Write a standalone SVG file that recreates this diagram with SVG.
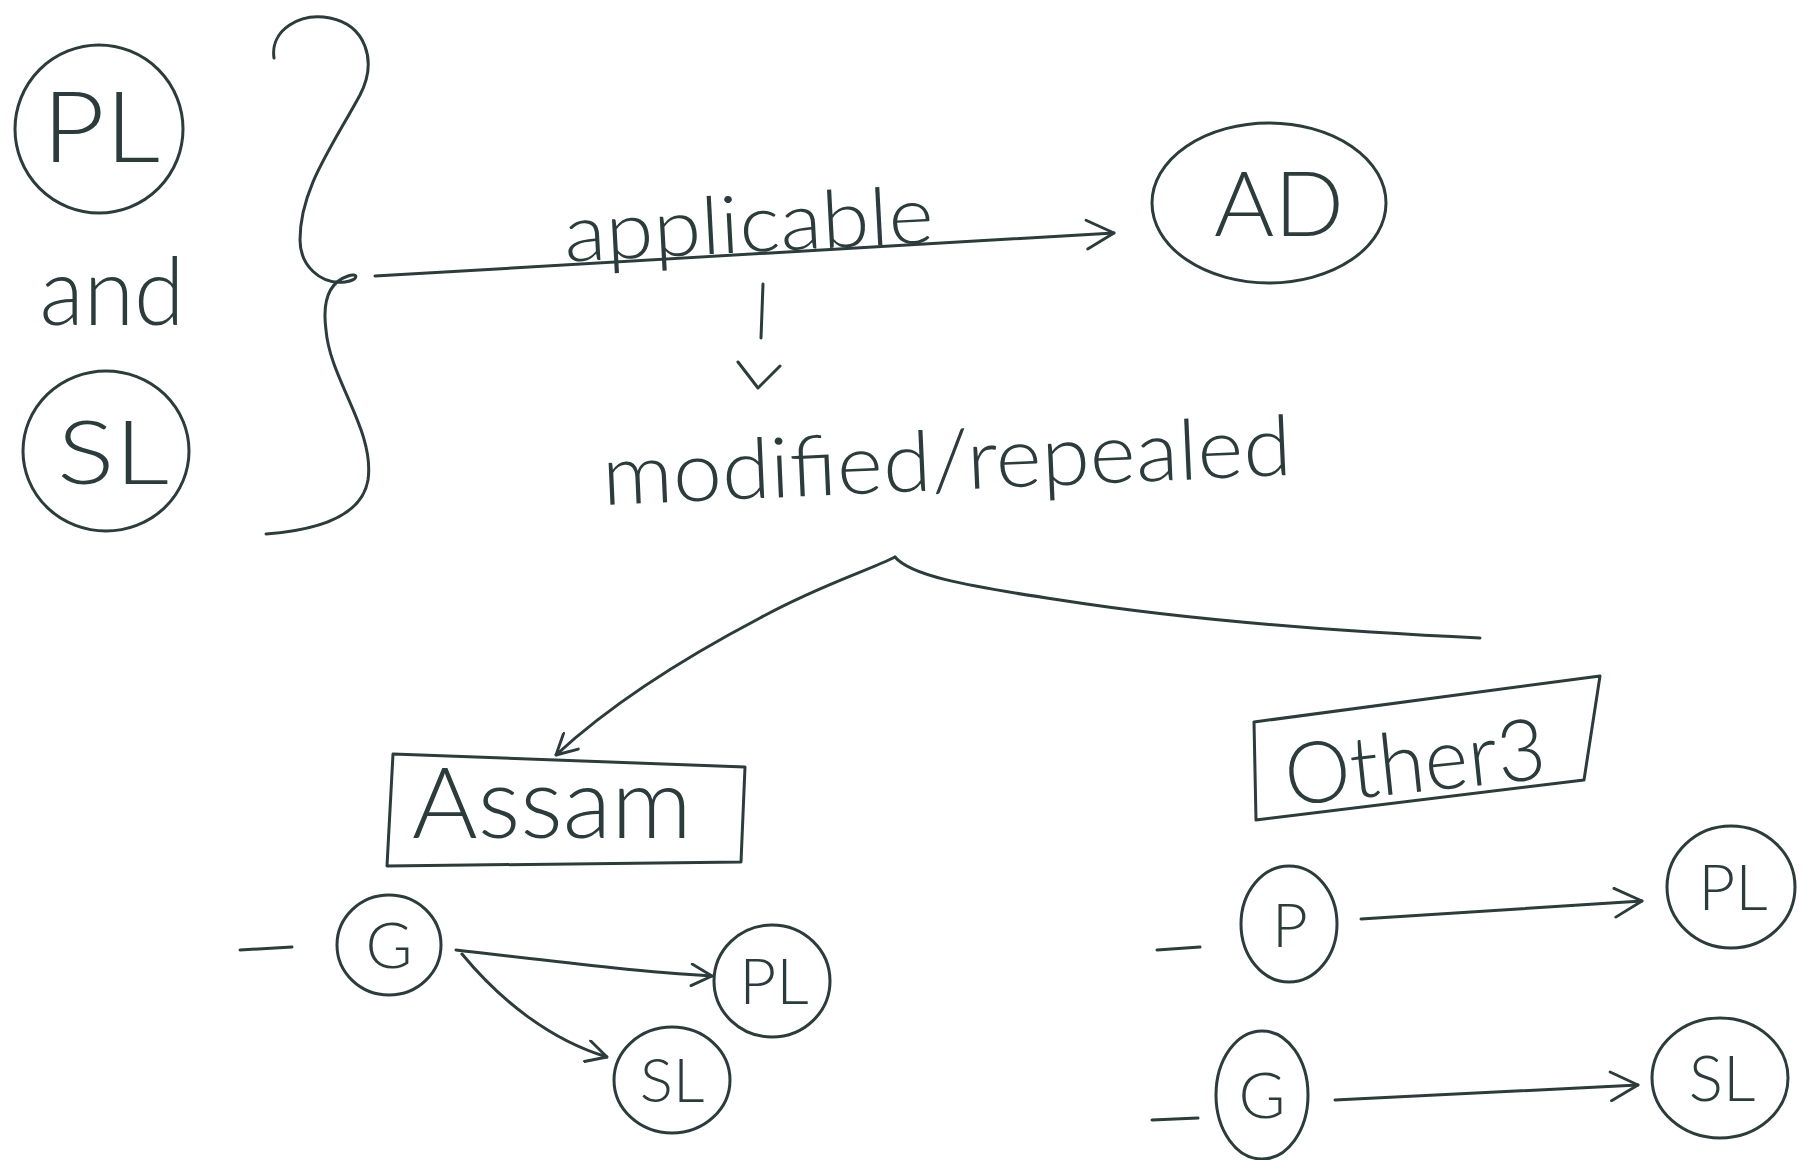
<svg xmlns="http://www.w3.org/2000/svg" width="1812" height="1160" viewBox="0 0 1812 1160">
<defs>
<style>
.s{fill:none;stroke:#2c3b3b;stroke-width:3;stroke-linecap:round;stroke-linejoin:round}
.t{fill:#2c3b3b;font-family:"Lato","Liberation Sans","DejaVu Sans",sans-serif;font-weight:300;text-anchor:middle}
</style>
<marker id="ah" viewBox="0 0 20 20" refX="19" refY="10" markerWidth="32" markerHeight="32" markerUnits="userSpaceOnUse" orient="auto">
<path d="M2,1 L19,10 L2,19" fill="none" stroke="#2c3b3b" stroke-width="1.8" stroke-linecap="round" stroke-linejoin="round"/>
</marker>
<marker id="ahs" viewBox="0 0 20 20" refX="19" refY="10" markerWidth="24" markerHeight="24" markerUnits="userSpaceOnUse" orient="auto">
<path d="M2,1 L19,10 L2,19" fill="none" stroke="#2c3b3b" stroke-width="2.4" stroke-linecap="round" stroke-linejoin="round"/>
</marker>
</defs>
<rect width="1812" height="1160" fill="#ffffff"/>

<g id="pl-top"><ellipse class="s" cx="99" cy="129" rx="84" ry="84"/><text class="t" x="101" y="162" font-size="98" textLength="118" lengthAdjust="spacingAndGlyphs">PL</text></g>
<g id="and-label"><text class="t" x="112" y="325" font-size="94" textLength="145" lengthAdjust="spacingAndGlyphs">and</text></g>
<g id="sl-top"><ellipse class="s" cx="106" cy="451" rx="83" ry="80"/><text class="t" x="113" y="484" font-size="88" textLength="112" lengthAdjust="spacingAndGlyphs">SL</text></g>
<g id="brace"><path class="s" d="M274,58 C270,30 300,12 330,18 C365,25 378,60 360,95 C330,150 300,190 300,240 C300,265 320,285 345,282 C360,280 358,272 348,276 C330,282 322,300 326,330 C330,380 375,430 368,480 C362,515 320,530 266,534"/></g>
<g id="ad"><ellipse class="s" cx="1269" cy="203" rx="117" ry="80"/><text class="t" x="1279" y="236" font-size="90" textLength="130" lengthAdjust="spacingAndGlyphs">AD</text></g>
<g id="applicable-label"><text class="t" x="750" y="252" font-size="80" textLength="370" lengthAdjust="spacingAndGlyphs" transform="rotate(-3 750 252)">applicable</text></g>
<g id="modified-label"><text class="t" x="948" y="490" font-size="84" textLength="690" lengthAdjust="spacingAndGlyphs" transform="rotate(-2.5 948 490)">modified/repealed</text></g>
<g id="assam"><path class="s" d="M393,754 L745,767 L741,862 L387,866 Z"/><text class="t" x="552" y="838" font-size="98" textLength="280" lengthAdjust="spacingAndGlyphs">Assam</text></g>
<g id="other3"><path class="s" d="M1254,722 L1600,676 L1584,780 L1256,820 Z"/><text class="t" x="1418" y="792" font-size="86" textLength="262" lengthAdjust="spacingAndGlyphs" transform="rotate(-6 1418 792)">Other3</text></g>

<g id="assam-g"><ellipse class="s" cx="389" cy="945" rx="52" ry="50"/><text class="t" x="389" y="968" font-size="64">G</text></g>
<g id="assam-pl"><ellipse class="s" cx="772" cy="981" rx="58" ry="56"/><text class="t" x="774" y="1004" font-size="64">PL</text></g>
<g id="assam-sl"><ellipse class="s" cx="672" cy="1080" rx="58" ry="53"/><text class="t" x="672" y="1102" font-size="62">SL</text></g>
<g id="other-p"><ellipse class="s" cx="1289" cy="924" rx="48" ry="58"/><text class="t" x="1290" y="947" font-size="62">P</text></g>
<g id="other-pl"><ellipse class="s" cx="1731" cy="887" rx="64" ry="61"/><text class="t" x="1733" y="910" font-size="64">PL</text></g>
<g id="other-g"><ellipse class="s" cx="1262" cy="1095" rx="46" ry="64"/><text class="t" x="1262" y="1118" font-size="64">G</text></g>
<g id="other-sl"><ellipse class="s" cx="1720" cy="1078" rx="68" ry="60"/><text class="t" x="1722" y="1101" font-size="64">SL</text></g>

<g id="connectors">
<path class="s" d="M375,276 L1114,233" marker-end="url(#ah)"/>
<path class="s" d="M763,284 L761,338"/>
<path class="s" d="M738,362 L758,388 L780,366"/>
<path class="s" d="M895,557 C870,570 820,585 760,618 C680,660 610,705 556,755" marker-end="url(#ahs)"/>
<path class="s" d="M895,557 C910,575 960,585 1060,600 C1200,622 1350,632 1480,638"/>
<path class="s" d="M240,950 L292,947"/>
<path class="s" d="M456,950 C560,962 640,972 712,976" marker-end="url(#ahs)"/>
<path class="s" d="M462,954 C500,1000 550,1040 607,1057" marker-end="url(#ahs)"/>
<path class="s" d="M1157,950 L1200,947"/>
<path class="s" d="M1361,919 L1642,901" marker-end="url(#ah)"/>
<path class="s" d="M1152,1120 L1198,1118"/>
<path class="s" d="M1335,1100 L1638,1085" marker-end="url(#ah)"/>
</g>
</svg>
